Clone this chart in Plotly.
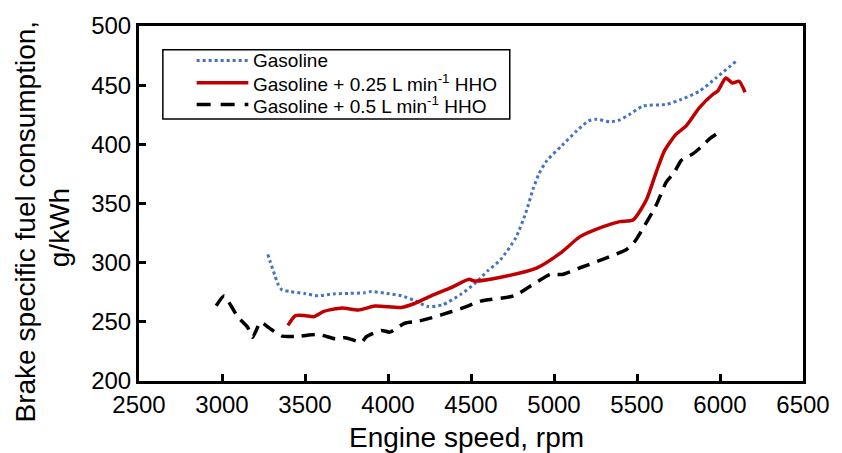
import plotly.graph_objects as go

gas_x = [3276, 3290, 3319, 3337, 3362, 3407, 3496, 3578, 3672, 3762, 3856, 3899, 3991, 4081, 4160, 4240, 4330,
         4440, 4520, 4600, 4679, 4769, 4829, 4875, 4909, 4958, 5048, 5138, 5208, 5257, 5337, 5397, 5457, 5536,
         5676, 5766, 5876, 5975, 6095]
gas_y = [307, 301, 289, 282, 277, 275.6, 274, 272, 273.6, 274, 274.5, 275.6, 274, 272, 268, 263, 264.4,
         273.4, 282, 293, 302.7, 320.8, 341.7, 362.6, 375, 386.4, 399, 411.5, 419.8, 421.2, 419, 420.7, 425.4, 432.4,
         433.7, 437.9, 444.9, 456, 470]

h25_x = [3397, 3443, 3502, 3553, 3613, 3722, 3822, 3921, 4081, 4160, 4260, 4380, 4489, 4519, 4679, 4898, 5038,
         5157, 5297, 5397, 5476, 5556, 5616, 5666, 5736, 5796, 5876, 5956, 5986, 6035, 6075, 6115, 6151]
h25_y = [247, 255.2, 255.2, 254.4, 258.8, 261.7, 260, 263.3, 262.2, 265.5, 272, 278.9, 285.9, 284.5, 287.7, 295.6, 308,
         322, 330.5, 334.7, 336.1, 352.9, 376.6, 394.7, 408.6, 415.6, 431, 442.1, 445, 456, 451.9, 453.3, 444]

h50_x = [2965, 3014, 3054, 3094, 3154, 3184, 3233, 3284, 3363, 3463, 3583, 3682, 3742, 3841, 3871, 3961, 4011,
         4101, 4181, 4260, 4380, 4460, 4559, 4759, 4859, 4978, 5048, 5157, 5317, 5437, 5487, 5536, 5616, 5676,
         5726, 5766, 5836, 5895, 5935, 6012]
h50_y = [263.6, 272, 263.6, 254.4, 245.5, 237, 249.6, 244.9, 237.9, 237.9, 239.3, 235.7, 236.6, 232.9, 237.6, 242.7, 241.3,
         248.8, 250.5, 253.3, 258.5, 262.2, 267.5, 272, 280.3, 290, 290, 295.7, 304.1, 311.1, 318, 329.1, 348.7, 368,
         376.6, 386.4, 391.9, 398.9, 404.4, 412]

x_ticks = [2500, 3000, 3500, 4000, 4500, 5000, 5500, 6000, 6500]
y_ticks = [200, 250, 300, 350, 400, 450, 500]

names = ["Gasoline", "Gasoline + 0.25 L min<sup>-1</sup> HHO", "Gasoline + 0.5 L min<sup>-1</sup> HHO"]
colors = ["#4472C4", "#C00000", "black"]
dashes = ["dot", "solid", "13px,8px"]
widths = [3, 3.5, 3.5]

FONT = "Liberation Sans, Arial, sans-serif"
W, H = 842, 453
L, R, T, B = 139, 35, 22, 72
PW, PH = W - L - R, H - T - B


def px(x):
    return (x - L) / PW


def py(y):
    return (H - B - y) / PH


fig = go.Figure()
for xs, ys, nm, c, d, w in zip([gas_x, h25_x, h50_x], [gas_y, h25_y, h50_y], names, colors, dashes, widths):
    fig.add_trace(go.Scatter(x=xs, y=ys, mode="lines", name=nm, showlegend=False,
                             line=dict(color=c, width=w, dash=d, shape="spline", smoothing=0.6)))

axis_common = dict(showline=True, linecolor="black", linewidth=3, mirror=True, ticks="inside",
                   ticklen=7, tickwidth=2.5, tickcolor="black", showgrid=False, zeroline=False,
                   tickfont=dict(family=FONT, size=24, color="black"))

shapes = []
annotations = []
# manual legend box
shapes.append(dict(type="rect", xref="paper", yref="paper", x0=px(163), x1=px(512), y0=py(116), y1=py(46),
                   line=dict(color="black", width=1.5), fillcolor="white", layer="above"))
rows_y = [57, 79.5, 101.5]
legend_dash = ["dot", "solid", "14px,10px"]
for ry, nm, c, d, w in zip(rows_y, names, colors, legend_dash, widths):
    shapes.append(dict(type="line", xref="paper", yref="paper", x0=px(197), x1=px(249), y0=py(ry), y1=py(ry),
                       line=dict(color=c, width=w, dash=d), layer="above"))
    annotations.append(dict(text=nm, xref="paper", yref="paper", x=px(252), y=py(ry), xanchor="left",
                            yanchor="middle", showarrow=False, font=dict(family=FONT, size=19, color="black")))

# axis titles
annotations.append(dict(text="Engine speed, rpm", xref="paper", yref="paper", x=px(468), y=py(438),
                        xanchor="center", yanchor="middle", showarrow=False,
                        font=dict(family=FONT, size=28, color="black")))
annotations.append(dict(text="Brake specific fuel consumption,", xref="paper", yref="paper", x=px(25), y=py(220),
                        xanchor="center", yanchor="middle", textangle=-90, showarrow=False,
                        font=dict(family=FONT, size=28, color="black")))
annotations.append(dict(text="g/kWh", xref="paper", yref="paper", x=px(59), y=py(226),
                        xanchor="center", yanchor="middle", textangle=-90, showarrow=False,
                        font=dict(family=FONT, size=28, color="black")))

fig.update_layout(
    width=W, height=H,
    margin=dict(l=L, r=R, t=T, b=B),
    paper_bgcolor="white", plot_bgcolor="white",
    font=dict(family=FONT, color="black"),
    xaxis=dict(range=[2500, 6500], tickvals=x_ticks, ticktext=[str(v) for v in x_ticks], **axis_common),
    yaxis=dict(range=[200, 500], tickvals=y_ticks, ticktext=[str(v) for v in y_ticks], **axis_common),
    shapes=shapes,
    annotations=annotations,
    showlegend=False,
)

fig.write_html("out.html", config={"displayModeBar": False},
               post_script="document.body.style.margin='0';document.body.style.overflow='hidden';")
